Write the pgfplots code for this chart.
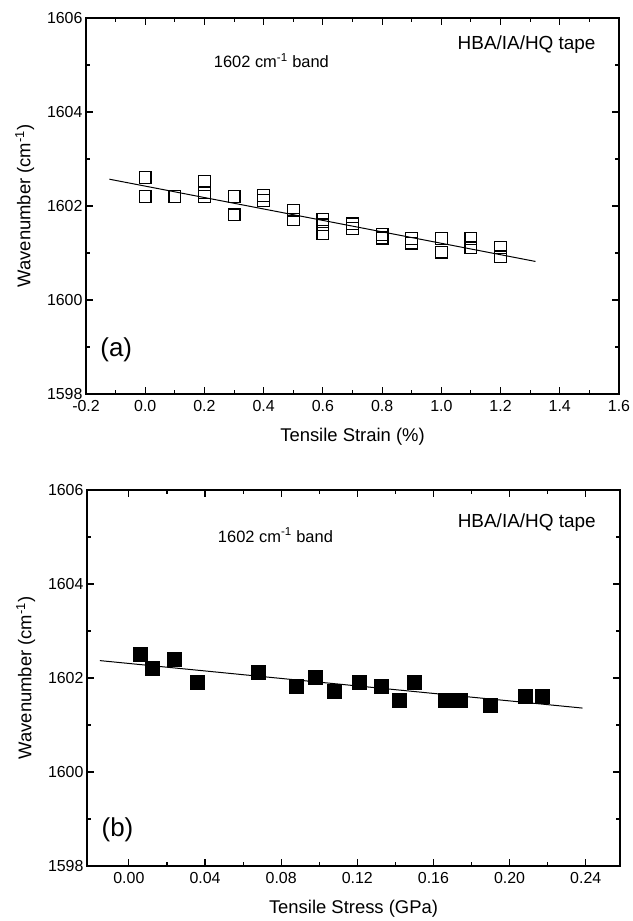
\documentclass[border=0pt]{standalone}
\usepackage{fontspec}
\setmainfont{Liberation Sans}
\usepackage{pgfplots}
\pgfplotsset{compat=1.18}
\begin{document}
\begin{tikzpicture}
\useasboundingbox (0bp,0bp) rectangle (633bp,921bp);
\pgfplotsset{
  every axis/.append style={
    scale only axis, width=533bp, height=376bp,
    axis line style={line width=1.3bp},
    tick style={line width=1.1bp, black},
    tick align=inside,
    major tick length=7bp, minor tick length=4bp,
    ymin=1598, ymax=1606, ytick={1598,1600,1602,1604,1606}, minor y tick num=1,
    minor x tick num=1,
    tick label style={font=\fontsize{16}{16}\selectfont},
    /pgf/number format/assume math mode=true,
    yticklabel style={/pgf/number format/.cd, fixed, precision=0, 1000 sep={}},
    xticklabel style={yshift=-3bp},
    ylabel={Wavenumber (cm\textsuperscript{-1})},
    every axis y label/.style={at={(axis description cs:-0.115,0.5)}, rotate=90, anchor=center, font=\fontsize{18.5}{18.5}\selectfont},
    every axis x label/.style={at={(axis description cs:0.5,-0.114)}, anchor=center, font=\fontsize{18.5}{18.5}\selectfont},
    clip=false,
  }
}
% ---------- (a) ----------
\begin{axis}[at={(86bp,527bp)}, anchor=south west,
  xmin=-0.2, xmax=1.6,
  xtick={-0.2,0,0.2,0.4,0.6,0.8,1.0,1.2,1.4,1.6},
  xticklabel style={/pgf/number format/.cd, fixed, fixed zerofill, precision=1},
  xlabel={Tensile Strain (\%)}]
\addplot[black, line width=1bp, no marks] coordinates {(-0.121,1602.57) (1.318,1600.82)};
\addplot[only marks, mark=square, mark size=5.9bp, mark options={line width=1.3bp, black, fill=none}] coordinates {
(0,1602.61) (0,1602.20)
(0.1,1602.20)
(0.2,1602.52) (0.2,1602.28) (0.2,1602.20)
(0.3,1602.20) (0.3,1601.81)
(0.4,1602.22) (0.4,1602.12)
(0.5,1601.91) (0.5,1601.71)
(0.6,1601.71) (0.6,1601.60) (0.6,1601.41)
(0.7,1601.62) (0.7,1601.52)
(0.8,1601.39) (0.8,1601.32)
(0.9,1601.31) (0.9,1601.21)
(1.0,1601.31) (1.0,1601.02)
(1.1,1601.31) (1.1,1601.11)
(1.2,1601.12) (1.2,1600.92)
};
\node[font=\fontsize{19}{19}\selectfont] at (axis cs:1.288,1605.43) {HBA/IA/HQ tape};
\node[font=\fontsize{16.5}{16.5}\selectfont] at (axis cs:0.426,1605.1) {1602 cm\textsuperscript{-1} band};
\node[font=\fontsize{26}{26}\selectfont] at (axis cs:-0.098,1598.94) {(a)};
\end{axis}
% ---------- (b) ----------
\begin{axis}[at={(87bp,55bp)}, anchor=south west,
  xmin=-0.022, xmax=0.258,
  xtick={0,0.04,0.08,0.12,0.16,0.20,0.24},
  xticklabel style={/pgf/number format/.cd, fixed, fixed zerofill, precision=2},
  xlabel={Tensile Stress (GPa)}]
\addplot[black, line width=1bp, no marks] coordinates {(-0.0152,1602.37) (0.2383,1601.36)};
\addplot[only marks, mark=square*, mark size=7bp, mark options={line width=0.3bp, black, fill=black}] coordinates {
(0.006,1602.50) (0.012,1602.20) (0.024,1602.41) (0.036,1601.91)
(0.068,1602.12) (0.088,1601.82) (0.098,1602.01) (0.108,1601.72)
(0.121,1601.92) (0.1325,1601.82) (0.142,1601.53) (0.150,1601.92)
(0.166,1601.53) (0.174,1601.53) (0.190,1601.43) (0.208,1601.62) (0.217,1601.62)
};
\node[font=\fontsize{19}{19}\selectfont] at (axis cs:0.209,1605.30) {HBA/IA/HQ tape};
\node[font=\fontsize{16.5}{16.5}\selectfont] at (axis cs:0.077,1605.04) {1602 cm\textsuperscript{-1} band};
\node[font=\fontsize{26}{26}\selectfont] at (axis cs:-0.006,1598.77) {(b)};
\end{axis}
\end{tikzpicture}
\end{document}
